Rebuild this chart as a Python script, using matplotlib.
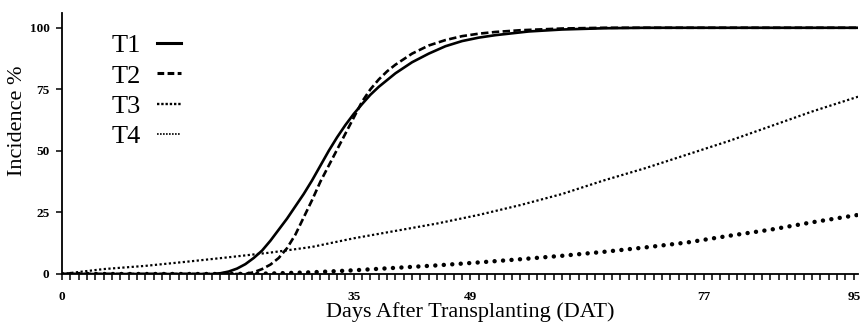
import numpy as np
import matplotlib
matplotlib.use('Agg')
import matplotlib.pyplot as plt
from matplotlib.lines import Line2D
from matplotlib.ticker import FixedLocator, NullFormatter

# Incidence (%), per treatment
days_t1 = [0, 18, 19, 20, 21, 22, 23, 24, 25, 26, 27, 28, 29, 30, 31, 32, 33, 34, 35, 36, 37,
           38, 40, 42, 44, 46, 48, 50, 52, 56, 60, 65, 70, 95.5]
inc_t1 = [0, 0, 0.3, 1, 2.2, 4, 6.5, 9.5, 13.5, 18, 22.5, 27.5, 32.5, 38, 44, 50, 55.5, 60.5,
          65, 69, 72.8, 76, 81.5, 86, 89.5, 92.5, 94.6, 96, 97, 98.5, 99.3, 99.8, 100, 100]

days_t2 = [0, 22, 23, 24, 25, 26, 27, 28, 29, 30, 31, 32, 33, 34, 35, 36, 37, 38, 39, 40,
           42, 44, 46, 48, 50, 52, 55, 60, 65, 95.5]
inc_t2 = [0, 0, 0.7, 2, 3.8, 6.5, 10.5, 16, 23, 30, 37.5, 44, 50.5, 57, 63.5, 70, 75, 79,
          82.3, 85, 89.5, 92.8, 95, 96.6, 97.6, 98.3, 99, 99.7, 100, 100]

days_t3 = [0, 20, 25, 30, 35, 40, 45, 50, 55, 60, 65, 70, 75, 80, 85, 90, 95.5]
inc_t3 = [0, 0, 0.2, 0.7, 1.5, 2.5, 3.5, 4.7, 6, 7.4, 9, 10.8, 12.8, 15.5, 18, 21, 24]

days_t4 = [0, 5, 10, 15, 20, 25, 30, 35, 40, 45, 50, 55, 60, 65, 70, 75, 80, 85, 90, 95.5]
inc_t4 = [0, 2, 3.3, 5, 6.8, 8.7, 11, 14.5, 17.5, 20.5, 24, 28, 32.5, 38, 43, 48.5, 54, 60, 66, 72]

x_ticks = [0, 35, 49, 77, 95]
x_tick_labels = ['0', '35', '49', '77', '95']
y_ticks = [0, 25, 50, 75, 100]
labels = ['T1', 'T2', 'T3', 'T4']

SERIF = ['Liberation Serif', 'DejaVu Serif']

fig = plt.figure(figsize=(8.62, 3.24), dpi=100)
ax = fig.add_axes([62 / 862, 1 - 274 / 324, (858 - 62) / 862, (274 - 13) / 324])

ax.plot(days_t4, inc_t4, color='black', lw=1.6, linestyle=(0, (1, 1.1)))
ax.plot(days_t3, inc_t3, color='black', lw=3.2, linestyle=(0, (0.01, 1.9)),
        dash_capstyle='round')
ax.plot(days_t2, inc_t2, color='black', lw=1.9, linestyle=(0, (2.8, 1.3)))
ax.plot(days_t1, inc_t1, color='black', lw=1.9)

ax.set_xlim(0, 95.5)
ax.set_ylim(0, 106)

# every day gets a tick, only a few are labelled
ax.xaxis.set_major_locator(FixedLocator(x_ticks))
ax.set_xticklabels(x_tick_labels)
ax.xaxis.set_minor_locator(FixedLocator(np.arange(0, 96)))
ax.xaxis.set_minor_formatter(NullFormatter())
ax.set_yticks(y_ticks)

ax.tick_params(axis='x', which='both', direction='out', length=4, width=1.1, pad=8)
ax.tick_params(axis='y', direction='out', length=4, width=1.1, pad=5)
for lab in ax.get_xticklabels() + ax.get_yticklabels():
    lab.set_family(SERIF)
    lab.set_fontweight('bold')
    lab.set_fontsize(9.5)

for side in ('top', 'right'):
    ax.spines[side].set_visible(False)
for side in ('left', 'bottom'):
    ax.spines[side].set_linewidth(1.3)

fig.text(18 / 862, 1 - 121 / 324, 'Incidence %', rotation=90, ha='center', va='center',
         family=SERIF, fontsize=16)
fig.text(470 / 862, 1 - 312 / 324, 'Days After Transplanting (DAT)', ha='center', va='center',
         family=SERIF, fontsize=16)

# legend proxies, drawn a bit thinner than the plotted lines
handles = [
    Line2D([0], [0], color='black', lw=2.2),
    Line2D([0], [0], color='black', lw=2.2, linestyle=(0, (2.2, 1.1))),
    Line2D([0], [0], color='black', lw=1.7, linestyle=(0, (1, 0.8))),
    Line2D([0], [0], color='black', lw=1.2, linestyle=(0, (1, 0.8))),
]
leg = ax.legend(handles, labels, loc='upper left', bbox_to_anchor=(88 / 862, 1 - 10 / 324),
                bbox_transform=fig.transFigure, frameon=False, markerfirst=False,
                handlelength=0.9, handletextpad=0.6, labelspacing=0.26,
                prop={'family': SERIF, 'size': 19})

fig.savefig('out.png', dpi=100, facecolor='white')
